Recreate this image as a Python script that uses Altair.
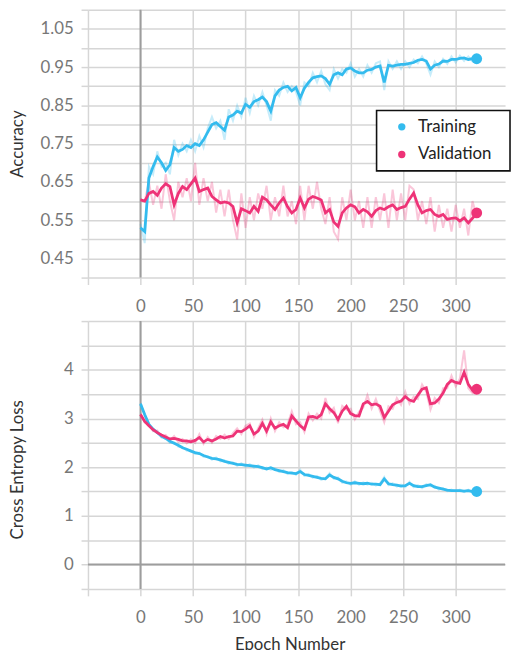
import altair as alt
import pandas as pd

# ---------------- data ----------------
EPOCHS = list(range(0, 321, 4))
SERIES = ["Training", "Validation"]
COLORS = ["#33BBEE", "#EE3377"]

X_TICKS = [-50, 0, 50, 100, 150, 200, 250, 300]
ACC_TICKS = [0.40, 0.45, 0.50, 0.55, 0.60, 0.65, 0.70, 0.75, 0.80, 0.85, 0.90, 0.95, 1.00, 1.05, 1.10]
ACC_LABELS = ["0.45", "0.55", "0.65", "0.75", "0.85", "0.95", "1.05"]
LOSS_TICKS = [-0.5, 0, 0.5, 1, 1.5, 2, 2.5, 3, 3.5, 4, 4.5, 5]
LOSS_LABELS = ["0", "1", "2", "3", "4"]

TRAIN_ACC = [0.53, 0.52, 0.66, 0.69, 0.715, 0.70, 0.68, 0.695, 0.74, 0.73,
             0.735, 0.745, 0.74, 0.75, 0.745, 0.76, 0.78, 0.80, 0.805, 0.795,
             0.785, 0.82, 0.825, 0.835, 0.83, 0.853, 0.845, 0.86, 0.865, 0.872,
             0.86, 0.835, 0.875, 0.89, 0.897, 0.90, 0.888, 0.897, 0.87, 0.895,
             0.91, 0.922, 0.925, 0.927, 0.92, 0.905, 0.93, 0.935, 0.93, 0.945,
             0.948, 0.94, 0.935, 0.935, 0.942, 0.944, 0.95, 0.953, 0.91, 0.955,
             0.953, 0.955, 0.957, 0.957, 0.96, 0.962, 0.968, 0.97, 0.966, 0.945,
             0.955, 0.958, 0.966, 0.965, 0.97, 0.97, 0.973, 0.974, 0.97, 0.972,
             0.972]
TRAIN_ACC_RAW = [0.54, 0.49, 0.69, 0.67, 0.73, 0.69, 0.70, 0.67, 0.76, 0.72,
                 0.75, 0.73, 0.76, 0.73, 0.77, 0.74, 0.79, 0.82, 0.79, 0.81,
                 0.76, 0.84, 0.81, 0.85, 0.82, 0.87, 0.83, 0.875, 0.85, 0.885,
                 0.85, 0.81, 0.89, 0.875, 0.91, 0.885, 0.90, 0.885, 0.85, 0.91,
                 0.90, 0.935, 0.91, 0.94, 0.905, 0.89, 0.945, 0.92, 0.945, 0.935,
                 0.96, 0.925, 0.945, 0.925, 0.955, 0.935, 0.96, 0.965, 0.89, 0.965,
                 0.945, 0.965, 0.945, 0.965, 0.95, 0.97, 0.96, 0.978, 0.96, 0.93,
                 0.965, 0.95, 0.972, 0.958, 0.978, 0.962, 0.98, 0.966, 0.978, 0.965,
                 0.975]
VAL_ACC = [0.603, 0.60, 0.62, 0.625, 0.615, 0.634, 0.645, 0.638, 0.59, 0.62,
           0.638, 0.63, 0.645, 0.66, 0.625, 0.63, 0.634, 0.612, 0.603, 0.595,
           0.598, 0.595, 0.586, 0.543, 0.58, 0.575, 0.569, 0.586, 0.573, 0.61,
           0.603, 0.59, 0.578, 0.595, 0.608, 0.585, 0.569, 0.578, 0.608, 0.582,
           0.605, 0.612, 0.608, 0.603, 0.569, 0.578, 0.545, 0.534, 0.569, 0.582,
           0.59, 0.585, 0.569, 0.578, 0.572, 0.56, 0.575, 0.582, 0.578, 0.585,
           0.59, 0.578, 0.583, 0.586, 0.605, 0.621, 0.59, 0.569, 0.575, 0.578,
           0.565, 0.56, 0.565, 0.552, 0.555, 0.556, 0.548, 0.556, 0.543, 0.555,
           0.569]
VAL_ACC_RAW = [0.605, 0.60, 0.65, 0.59, 0.64, 0.58, 0.67, 0.60, 0.55, 0.65,
               0.61, 0.66, 0.60, 0.70, 0.59, 0.66, 0.60, 0.65, 0.57, 0.63,
               0.56, 0.63, 0.55, 0.50, 0.62, 0.53, 0.61, 0.55, 0.62, 0.58,
               0.64, 0.55, 0.61, 0.56, 0.64, 0.56, 0.60, 0.54, 0.64, 0.55,
               0.64, 0.58, 0.65, 0.58, 0.54, 0.61, 0.52, 0.50, 0.61, 0.55,
               0.63, 0.55, 0.60, 0.53, 0.61, 0.53, 0.61, 0.55, 0.62, 0.53,
               0.63, 0.55, 0.62, 0.55, 0.64, 0.63, 0.55, 0.60, 0.54, 0.61,
               0.52, 0.59, 0.53, 0.58, 0.52, 0.59, 0.53, 0.58, 0.51, 0.60,
               0.56]
TRAIN_LOSS = [3.30, 3.08, 2.88, 2.78, 2.71, 2.64, 2.59, 2.53, 2.49, 2.45,
              2.40, 2.37, 2.33, 2.30, 2.28, 2.24, 2.21, 2.18, 2.17, 2.15,
              2.12, 2.10, 2.08, 2.06, 2.05, 2.04, 2.03, 2.02, 2.01, 1.99,
              1.96, 1.99, 1.95, 1.93, 1.91, 1.89, 1.88, 1.87, 1.91, 1.85,
              1.83, 1.81, 1.79, 1.77, 1.76, 1.84, 1.79, 1.76, 1.71, 1.68,
              1.67, 1.68, 1.67, 1.66, 1.67, 1.65, 1.65, 1.64, 1.76, 1.66,
              1.64, 1.63, 1.61, 1.62, 1.67, 1.62, 1.60, 1.60, 1.62, 1.64,
              1.59, 1.57, 1.55, 1.53, 1.52, 1.52, 1.52, 1.51, 1.52, 1.50,
              1.50]
TRAIN_LOSS_RAW = [3.32, 3.05, 2.90, 2.75, 2.73, 2.61, 2.61, 2.50, 2.51, 2.42,
                  2.42, 2.34, 2.35, 2.27, 2.30, 2.21, 2.23, 2.15, 2.20, 2.12,
                  2.14, 2.07, 2.10, 2.03, 2.08, 2.01, 2.06, 1.99, 2.04, 1.96,
                  1.99, 1.95, 1.97, 1.90, 1.94, 1.86, 1.90, 1.84, 1.95, 1.82,
                  1.86, 1.78, 1.82, 1.74, 1.77, 1.88, 1.76, 1.79, 1.68, 1.71,
                  1.64, 1.71, 1.64, 1.69, 1.64, 1.68, 1.62, 1.67, 1.80, 1.63,
                  1.67, 1.60, 1.64, 1.59, 1.70, 1.59, 1.63, 1.57, 1.65, 1.61,
                  1.62, 1.54, 1.57, 1.51, 1.54, 1.50, 1.54, 1.49, 1.54, 1.48,
                  1.51]
VAL_LOSS = [3.08, 2.94, 2.85, 2.77, 2.71, 2.66, 2.62, 2.58, 2.59, 2.57,
            2.54, 2.54, 2.52, 2.55, 2.61, 2.52, 2.57, 2.54, 2.58, 2.63,
            2.60, 2.63, 2.64, 2.74, 2.73, 2.78, 2.85, 2.68, 2.74, 2.90,
            2.74, 2.93, 2.80, 2.85, 2.88, 2.81, 3.05, 2.95, 2.85, 2.78,
            3.03, 3.04, 3.01, 3.08, 3.30, 3.20, 3.12, 2.98, 3.15, 3.25,
            3.10, 3.06, 3.05, 3.30, 3.35, 3.28, 3.30, 3.25, 3.02, 3.15,
            3.28, 3.33, 3.36, 3.45, 3.38, 3.35, 3.48, 3.60, 3.63, 3.30,
            3.32, 3.40, 3.52, 3.70, 3.78, 3.74, 3.72, 3.95, 3.70, 3.58,
            3.60]
VAL_LOSS_RAW = [3.10, 2.92, 2.88, 2.74, 2.75, 2.62, 2.66, 2.55, 2.64, 2.52,
                2.58, 2.49, 2.57, 2.50, 2.68, 2.48, 2.62, 2.50, 2.64, 2.58,
                2.67, 2.58, 2.70, 2.80, 2.68, 2.85, 2.90, 2.62, 2.80, 2.98,
                2.68, 3.00, 2.74, 2.92, 2.82, 2.88, 3.15, 2.88, 2.92, 2.72,
                3.10, 2.96, 3.10, 3.00, 3.42, 3.12, 3.22, 2.90, 3.26, 3.18,
                3.20, 2.98, 3.14, 3.22, 3.48, 3.20, 3.40, 3.15, 2.92, 3.25,
                3.20, 3.42, 3.28, 3.55, 3.30, 3.45, 3.40, 3.70, 3.55, 3.18,
                3.42, 3.32, 3.62, 3.62, 3.88, 3.66, 3.82, 4.40, 3.62, 3.52,
                3.60]


def long_frame(train_smooth, train_raw, val_smooth, val_raw):
    rows = []
    for name, smooth, raw in [("Training", train_smooth, train_raw),
                              ("Validation", val_smooth, val_raw)]:
        for e, s, r in zip(EPOCHS, smooth, raw):
            rows.append({"epoch": e, "series": name, "smooth": s, "raw": r})
    return pd.DataFrame(rows)


acc_df = long_frame(TRAIN_ACC, TRAIN_ACC_RAW, VAL_ACC, VAL_ACC_RAW)
loss_df = long_frame(TRAIN_LOSS, TRAIN_LOSS_RAW, VAL_LOSS, VAL_LOSS_RAW)

color_scale = alt.Scale(domain=SERIES, range=COLORS)
x_scale = alt.Scale(domain=[-50, 347], nice=False, zero=False)

FONT = "Lato"
PLOT_W = 422
PLOT_H = 271


def label_expr(labels, fmt):
    arr = "[" + ",".join("'" + s + "'" for s in labels) + "]"
    return (f"indexof({arr}, format(datum.value, '{fmt}')) >= 0 "
            f"&& abs(datum.value * 100 - round(datum.value * 100)) < 0.001 "
            f"? format(datum.value, '{fmt}') : ''")


def panel(df, y_domain, y_ticks, y_label_expr, y_title, x_title, legend, y_title_y=None):
    x_axis_kw = dict(values=X_TICKS, labelOverlap=False, labelPadding=14,
                     labelExpr="datum.value < 0 || datum.value > 300 ? '' : datum.label")
    if x_title:
        x_axis_kw.update(title=x_title, titleX=204, titlePadding=11)
    else:
        x_axis_kw.update(title=None)
    x_enc = alt.X("epoch:Q", scale=x_scale, axis=alt.Axis(**x_axis_kw))

    y_axis_kw = dict(values=y_ticks, labelOverlap=False, labelFlush=True,
                     title=y_title, labelExpr=y_label_expr,
                     minExtent=50, maxExtent=50, titlePadding=12)
    if y_title_y is not None:
        y_axis_kw.update(titleY=y_title_y)
    y_scale = alt.Scale(domain=y_domain, nice=False, zero=False)
    y_axis = alt.Axis(**y_axis_kw)

    def Y(field):
        return alt.Y(field, scale=y_scale, axis=y_axis)

    base = alt.Chart(df)
    zero_v = alt.Chart(pd.DataFrame({"epoch": [0]})).mark_rule(
        color="#9d9d9d", strokeWidth=2).encode(x=x_enc)
    layers = [zero_v]
    if y_domain[0] < 0:
        zero_h = alt.Chart(pd.DataFrame({"zero": [0]})).mark_rule(
            color="#9d9d9d", strokeWidth=2).encode(y=Y("zero:Q"))
        layers.append(zero_h)

    raw = base.mark_line(strokeWidth=2, opacity=0.28).encode(
        x=x_enc, y=Y("raw:Q"),
        stroke=alt.Stroke("series:N", scale=color_scale, legend=None))
    smooth = base.mark_line(strokeWidth=2.8).encode(
        x=x_enc, y=Y("smooth:Q"),
        stroke=alt.Stroke("series:N", scale=color_scale, legend=None))
    ends = base.transform_filter(alt.datum.epoch == EPOCHS[-1]).mark_circle(
        size=120, opacity=1).encode(
        x=x_enc, y=Y("smooth:Q"),
        color=alt.Color("series:N", scale=color_scale, legend=legend))
    layers += [raw, smooth, ends]
    return alt.layer(*layers).properties(width=PLOT_W, height=PLOT_H)


legend = alt.Legend(orient="none", legendX=292, legendY=102,
                    title="x", titleOrient="right", titleColor="rgba(0,0,0,0)",
                    titleFontSize=12, titlePadding=4,
                    labelFont=FONT, labelFontSize=17, labelColor="#222",
                    symbolType="circle", symbolSize=55, symbolOffset=9,
                    labelOffset=8, rowPadding=10, padding=8,
                    strokeColor="#111", fillColor="white", cornerRadius=0)

acc_expr = label_expr(ACC_LABELS, ".2f")
loss_expr = ("datum.value >= 0 && datum.value <= 4 && datum.value == floor(datum.value)"
             " ? format(datum.value, 'd') : ''")

top = panel(acc_df, [0.40, 1.10], ACC_TICKS, acc_expr, "Accuracy", None, legend)
bottom = panel(loss_df, [-0.5, 5.0], LOSS_TICKS, loss_expr,
               "Cross Entropy Loss", "Epoch Number", None, y_title_y=150)

chart = alt.vconcat(top, bottom, spacing=6).resolve_legend(
    color="independent"
).properties(
    padding={"left": 9, "top": 5, "right": 0, "bottom": 0},
    background="white",
).configure_view(stroke=None).configure_axis(
    grid=True, gridColor="#d6d6d6", gridWidth=1.5,
    tickColor="#d6d6d6", tickWidth=1.5, tickSize=7,
    domain=False, labelFont=FONT, labelFontSize=17, labelColor="#777",
    labelPadding=8, titleFont=FONT, titleFontSize=17, titleColor="#333",
    titleFontWeight="normal",
).configure_legend(strokeWidth=1.6)

chart.save("out.html", embed_options={"renderer": "svg", "actions": False})
